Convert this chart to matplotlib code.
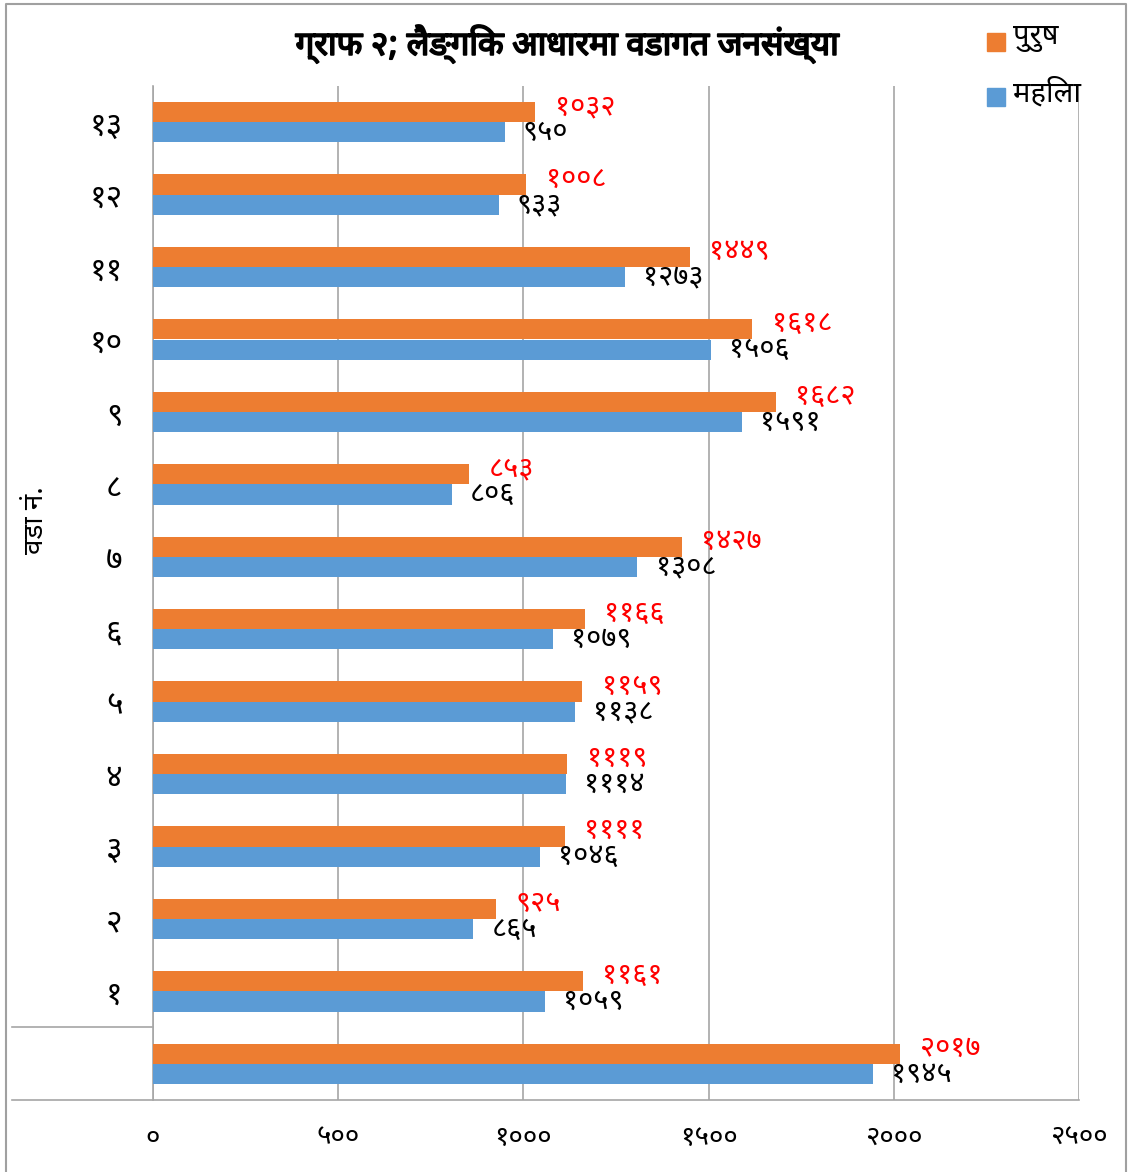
import matplotlib

matplotlib.use("Agg")
import matplotlib.pyplot as plt
import matplotlib.patheffects as pe
import numpy as np
from matplotlib import font_manager
from matplotlib.lines import Line2D

# wards from bottom (unlabelled total-like row) to top (ward 13)
WARDS = ["", "१", "२", "३", "४", "५", "६", "७", "८", "९", "१०", "११", "१२", "१३"]
MALE = [2017, 1161, 925, 1111, 1119, 1159, 1166, 1427, 853, 1682, 1618, 1449, 1008, 1032]
FEMALE = [1945, 1059, 865, 1046, 1114, 1138, 1079, 1308, 806, 1591, 1506, 1273, 933, 950]
XTICKS = [0, 500, 1000, 1500, 2000, 2500]

TITLE = "ग्राफ २; लैङ्गिक आधारमा वडागत जनसंख्या"
YLABEL = "वडा नं."
LEGEND = ["पुरुष", "महिला"]

ORANGE = "#ED7D31"
BLUE = "#5B9BD5"
GRID = "#A6A6A6"

DIGITS = str.maketrans("0123456789", "०१२३४५६७८९")


def deva(n):
    return str(n).translate(DIGITS)


NAMES = {f.name for f in font_manager.fontManager.ttflist}


def first_of(cands):
    for name in cands:
        if name in NAMES:
            return name
    return "DejaVu Sans"


# a font whose Devanagari digits are real Devanagari digits
FONT = first_of(["Noto Sans Devanagari", "Lohit Devanagari", "Mukta", "FreeSans"])
plt.rcParams["font.family"] = [FONT, "DejaVu Sans"]

W, H = 1128, 1172
fig = plt.figure(figsize=(W / 100, H / 100), dpi=100)
fig.patch.set_facecolor("white")


def fx(px):
    return px / W


def fy(py):
    return 1 - py / H


left, right, top, bottom = 153, 1079, 86, 1100
ax = fig.add_axes([fx(left), fy(bottom), fx(right - left), (bottom - top) / H])

y = np.arange(len(WARDS))
bh = 0.28
ax.barh(y + bh / 2, MALE, height=bh, color=ORANGE, zorder=3)
ax.barh(y - bh / 2, FEMALE, height=bh, color=BLUE, zorder=3)

for yi, m, f in zip(y, MALE, FEMALE):
    ax.annotate(deva(m), (m, yi + bh / 2), xytext=(14, 4), textcoords="offset points",
                color="red", fontsize=21, va="center", ha="left", zorder=4)
    ax.annotate(deva(f), (f, yi - bh / 2), xytext=(13, 0), textcoords="offset points",
                color="black", fontsize=21, va="center", ha="left", zorder=4)

ax.set_xlim(0, 2500)
ax.set_ylim(-0.5, len(WARDS) - 0.5)
ax.set_xticks(XTICKS)
ax.set_xticklabels([deva(v) for v in XTICKS], fontsize=20)
ax.set_yticks(y)
ax.set_yticklabels(WARDS, fontsize=23)
ax.tick_params(axis="x", length=0, pad=17)
ax.tick_params(axis="y", length=0, pad=22)
ax.xaxis.grid(True, color=GRID, linewidth=1.2, zorder=0)
ax.set_axisbelow(True)
for side in ["top", "right", "bottom"]:
    ax.spines[side].set_visible(False)
ax.spines["left"].set_color(GRID)
ax.spines["left"].set_linewidth(1.2)

# extended category axis lines (bottom axis and separator for the unlabelled row)
fig.add_artist(Line2D([fx(12), fx(right)], [fy(bottom), fy(bottom)], color=GRID, lw=1.2))
fig.add_artist(Line2D([fx(12), fx(left)], [fy(1027), fy(1027)], color=GRID, lw=1.2))

# outer chart border
fig.add_artist(Line2D([fx(6), fx(6), fx(1126), fx(1126)], [0, fy(4), fy(4), 0], color="#A0A0A0", lw=1.5))

# faux bold via stroke, since the Devanagari face may have no bold weight
fig.text(fx(567), fy(44), TITLE, fontsize=24, fontweight="bold", ha="center", va="center",
         path_effects=[pe.withStroke(linewidth=1.3, foreground="black")])
fig.text(fx(36), fy(520), YLABEL, fontsize=20, rotation=90, ha="center", va="center")

for i, (lab, col) in enumerate(zip(LEGEND, [ORANGE, BLUE])):
    yy = 42 + i * 55
    fig.patches.append(plt.Rectangle((fx(987), fy(yy + 9)), fx(18), 18 / H, color=col,
                                     transform=fig.transFigure, figure=fig))
    fig.text(fx(1013), fy(yy - 4), lab, fontsize=21, ha="left", va="center")

fig.savefig("out.png", dpi=100, facecolor="white")
